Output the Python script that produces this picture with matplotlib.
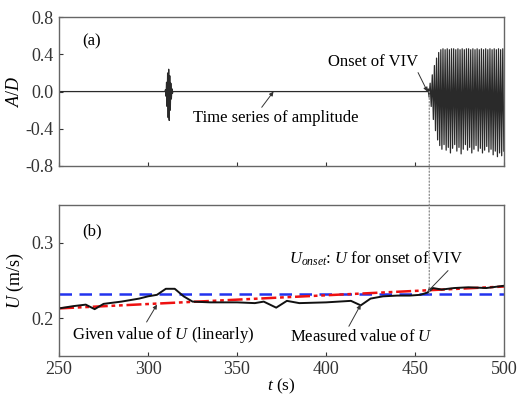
import matplotlib
matplotlib.use('Agg')
import matplotlib.pyplot as plt
from matplotlib.patches import ConnectionPatch

plt.rcParams['font.family'] = 'Liberation Serif'
plt.rcParams['mathtext.fontset'] = 'custom'
plt.rcParams['mathtext.rm'] = 'Liberation Serif'
plt.rcParams['mathtext.it'] = 'Liberation Serif:italic'
plt.rcParams['axes.unicode_minus'] = False

# ---------- data ----------
# (a) amplitude: quiet baseline, a short burst near t=311 s, VIV after t=457 s
burst_start = 309.8
burst_half = 0.3
burst_peaks = [0.02, -0.05, 0.10, -0.16, 0.20, -0.28, 0.24, -0.31, 0.17, -0.20, 0.09, -0.08, 0.03, -0.02]

viv_start = 457.0
viv_half = 0.6
viv_upper = [0.03, 0.09, 0.18, 0.28, 0.36, 0.42, 0.45, 0.46, 0.45, 0.46,
             0.45, 0.46, 0.46, 0.45, 0.46, 0.45, 0.46, 0.45, 0.46, 0.46,
             0.45, 0.46, 0.45, 0.46, 0.45, 0.46, 0.45, 0.46, 0.45, 0.46,
             0.45, 0.46, 0.45, 0.46, 0.45, 0.46]
viv_lower = [-0.06, -0.16, -0.30, -0.42, -0.52, -0.58, -0.62, -0.57, -0.63, -0.60,
             -0.66, -0.61, -0.57, -0.64, -0.60, -0.67, -0.62, -0.57, -0.63, -0.60,
             -0.66, -0.62, -0.58, -0.64, -0.61, -0.66, -0.63, -0.59, -0.65, -0.62,
             -0.68, -0.64, -0.70, -0.66, -0.69, -0.64]

# (b) flow velocity
t_meas = [250, 258, 265, 270, 275, 285, 295, 300, 305, 310, 315, 320, 325, 335, 350,
          360, 365, 372, 378, 385, 400, 414, 419.5, 425, 432, 440, 447, 453, 457,
          460, 465, 472, 480, 490, 500]
u_meas = [0.213, 0.216, 0.218, 0.212, 0.219, 0.222, 0.226, 0.229, 0.231, 0.239, 0.239,
          0.229, 0.222, 0.221, 0.221, 0.220, 0.222, 0.214, 0.223, 0.220, 0.221, 0.223,
          0.217, 0.226, 0.229, 0.230, 0.230, 0.231, 0.234, 0.240, 0.238, 0.240,
          0.241, 0.240, 0.243]
t_given = [250, 500]
u_given = [0.213, 0.242]
u_onset = 0.232
t_onset = 458

# ---------- build the amplitude trace from the listed peaks ----------
t_a = [250, burst_start - burst_half]
a_a = [0.0, 0.0]
for k, p in enumerate(burst_peaks):
    t_a.append(burst_start + k * burst_half)
    a_a.append(p)
t_a += [burst_start + len(burst_peaks) * burst_half, viv_start]
a_a += [0.0, 0.0]
for k in range(len(viv_upper)):
    t_a += [viv_start + (2 * k + 0.5) * viv_half, viv_start + (2 * k + 1.5) * viv_half]
    a_a += [viv_upper[k], viv_lower[k]]

fig = plt.figure(figsize=(5.18, 3.99), dpi=100)
ax1 = fig.add_axes([0.114, 0.584, 0.859, 0.373])
ax2 = fig.add_axes([0.114, 0.108, 0.859, 0.378])

arrow = dict(arrowstyle='-|>', color='#333333', lw=0.7, mutation_scale=6, shrinkA=0, shrinkB=0)

ax1.plot(t_a, a_a, color='#2a2a2a', lw=0.9)
ax1.set_xlim(250, 500)
ax1.set_ylim(-0.8, 0.8)
ax1.set_yticks([-0.8, -0.4, 0.0, 0.4, 0.8])
ax1.set_xticks([250, 300, 350, 400, 450, 500])
ax1.set_xticklabels([])
ax1.set_ylabel('$\\mathit{A/D}$', fontsize=13, labelpad=2)
ax1.text(263, 0.5, '(a)', fontsize=12)
ax1.annotate('Onset of VIV', xy=(457, 0.0), xytext=(452, 0.32), fontsize=12, ha='right', va='center',
             arrowprops=dict(arrow, relpos=(0.97, 0.1)))
ax1.annotate('Time series of amplitude', xy=(370.5, 0.0), xytext=(372, -0.285), fontsize=12, ha='center', va='center',
             arrowprops=dict(arrow, relpos=(0.4, 1.0)))

ax2.axhline(u_onset, color='#2233ee', lw=1.8, ls=(0, (5, 3)))
ax2.plot(t_given, u_given, color='#ee1111', lw=1.8, ls=(0, (6, 1.5, 1.5, 1.5, 1.5, 1.5)))
ax2.plot(t_meas, u_meas, color='#111111', lw=1.4)
ax2.set_xlim(250, 500)
ax2.set_ylim(0.15, 0.35)
ax2.set_yticks([0.2, 0.3])
ax2.set_xticks([250, 300, 350, 400, 450, 500])
ax2.set_xlabel('$\\mathit{t}$ (s)', fontsize=12.5, labelpad=-1)
ax2.set_ylabel('$\\mathit{U}$ (m/s)', fontsize=13, labelpad=4)
ax2.text(263, 0.31, '(b)', fontsize=12)
ax2.annotate('$\\mathit{U}_{\\mathit{onset}}$: $\\mathit{U}$ for onset of VIV', xy=(457, 0.235), xytext=(428, 0.279),
             fontsize=12, ha='center', va='center',
             arrowprops=dict(arrow, relpos=(0.93, 0.0)))
ax2.annotate('Given value of $\\mathit{U}$ (linearly)', xy=(305, 0.218), xytext=(308.5, 0.178),
             fontsize=12, ha='center', va='center',
             arrowprops=dict(arrow, relpos=(0.4, 1.0)))
ax2.annotate('Measured value of $\\mathit{U}$', xy=(419.5, 0.218), xytext=(420, 0.175),
             fontsize=12, ha='center', va='center',
             arrowprops=dict(arrow, relpos=(0.4, 1.0)))

for ax in (ax1, ax2):
    ax.tick_params(direction='in', labelsize=13, length=3, pad=4, top=False, right=False, colors='#333333')
    for s in ax.spines.values():
        s.set_color('#666666')
        s.set_linewidth(1.0)

con = ConnectionPatch(xyA=(t_onset, 0.0), coordsA=ax1.transData, xyB=(t_onset, u_onset),
                      coordsB=ax2.transData, color='#888888', lw=0.9, ls=':')
fig.add_artist(con)

fig.savefig('out.png', dpi=100)
